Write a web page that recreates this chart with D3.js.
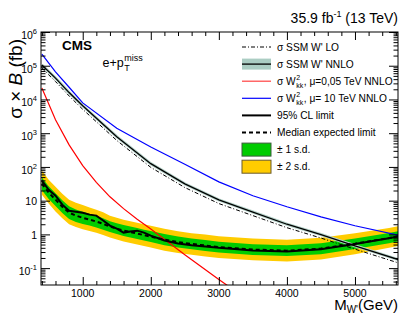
<!DOCTYPE html>
<html>
<head>
<meta charset="utf-8">
<script src="https://cdn.jsdelivr.net/npm/d3@7"></script>
<style>
  body { margin: 0; background: #fff; }
  text { font-family: "Liberation Sans", Arial, Helvetica, sans-serif; fill: #000; }
</style>
</head>
<body>
<div id="chart"></div>
<script>
var svgWidth = 407;
var svgHeight = 318;

var margin = { top: 32, right: 9, bottom: 33, left: 41 };
var width = svgWidth - margin.left - margin.right;
var height = svgHeight - margin.top - margin.bottom;

// theory curves (fb)
var theoryMass = [400, 600, 800, 1000, 1500, 2000, 2500, 3000, 3500, 4000, 4500, 5000, 5650];
var ssmNNLO = [1.05e5, 4.3e4, 1.6e4, 6.5e3, 790, 125, 31.6, 10.5, 4.6, 2.0, 0.99, 0.46, 0.175];
var ssmLO = [8.5e4, 3.4e4, 1.27e4, 5.1e3, 610, 97, 24.5, 8.2, 3.6, 1.58, 0.78, 0.365, 0.14];
var wkk10 = [2.2e5, 6.6e4, 2.3e4, 7.9e3, 1.4e3, 390, 120, 36, 14, 6.6, 3.3, 1.8, 0.93];

var redMass = [400, 600, 800, 1000, 1200, 1400, 1600, 1800, 2000, 2500, 3000, 3200];
var wkk005 = [2.2e4, 2.5e3, 450, 110, 35, 13, 5.8, 2.8, 1.45, 0.25, 0.046, 0.024];

// limits (fb)
var limitMass = [400, 500, 600, 700, 800, 900, 1000, 1100, 1200, 1300, 1400, 1500, 1600, 1700,
  1800, 1900, 2000, 2200, 2400, 2600, 2800, 3000, 3500, 4000, 4500, 5000, 5500, 5650];
var expected = [31.8, 17.3, 10.7, 6.6, 4.4, 3.6, 3.1, 2.75, 2.4, 2.05, 1.7, 1.48, 1.3, 1.17,
  1.06, 0.95, 0.86, 0.70, 0.59, 0.52, 0.47, 0.42, 0.355, 0.33, 0.38, 0.53, 0.78, 0.89];
var observed = [39, 21, 14, 7.6, 5.0, 4.7, 4.4, 3.85, 3.6, 2.57, 1.82, 1.48, 1.13, 1.21,
  1.29, 1.13, 0.92, 0.66, 0.54, 0.48, 0.44, 0.40, 0.335, 0.31, 0.36, 0.52, 0.77, 0.88];
var minus2 = [15, 8.2, 4.8, 3.0, 2.0, 1.65, 1.42, 1.27, 1.12, 0.96, 0.81, 0.71, 0.62, 0.56,
  0.50, 0.45, 0.41, 0.33, 0.28, 0.25, 0.22, 0.20, 0.17, 0.157, 0.18, 0.26, 0.40, 0.46];
var minus1 = [20.5, 11.2, 6.9, 4.3, 2.85, 2.35, 2.02, 1.82, 1.6, 1.38, 1.17, 1.02, 0.9, 0.81,
  0.73, 0.66, 0.59, 0.48, 0.41, 0.36, 0.32, 0.29, 0.245, 0.228, 0.26, 0.37, 0.55, 0.63];
var plus1 = [49, 26.8, 16.6, 10.2, 6.8, 5.5, 4.7, 4.1, 3.55, 3.0, 2.47, 2.15, 1.89, 1.7,
  1.54, 1.38, 1.25, 1.02, 0.86, 0.75, 0.68, 0.61, 0.51, 0.48, 0.55, 0.76, 1.1, 1.25];
var plus2 = [78, 42, 26, 16, 10.7, 8.6, 7.4, 6.3, 5.4, 4.5, 3.6, 3.1, 2.73, 2.45,
  2.23, 2.0, 1.8, 1.47, 1.24, 1.09, 0.99, 0.88, 0.75, 0.69, 0.8, 1.08, 1.55, 1.76];

// axis ticks
var xMajor = [1000, 2000, 3000, 4000, 5000];
var yMajor = [1e-1, 1, 10, 1e2, 1e3, 1e4, 1e5, 1e6];
var yLabels = ["10^-1", "1", "10", "10^2", "10^3", "10^4", "10^5", "10^6"];

var svg = d3.select("#chart")
  .append("svg")
  .attr("width", svgWidth)
  .attr("height", svgHeight);

var chartGroup = svg.append("g")
  .attr("transform", `translate(${margin.left}, ${margin.top})`);

var x = d3.scaleLinear().domain([387, 5632]).range([0, width]);
var y = d3.scaleLog().domain([0.0316, 1e6]).range([height, 0]);

var xMinor = d3.range(400, 5632, 200).filter(d => xMajor.indexOf(d) < 0);
var yMinor = [];
[0.01, 0.1, 1, 10, 1e2, 1e3, 1e4, 1e5].forEach(function(dec) {
  for (var k = 2; k <= 9; k++) {
    var v = dec * k;
    if (v > 0.0316 && v < 1e6) yMinor.push(v);
  }
});

chartGroup.append("clipPath").attr("id", "clip")
  .append("rect").attr("width", width).attr("height", height);

var plot = chartGroup.append("g").attr("clip-path", "url(#clip)");

function pts(mass, vals) { return d3.zip(mass, vals); }

var line = d3.line().x(d => x(d[0])).y(d => y(d[1]));
var band = d3.area()
  .x(d => x(d[0]))
  .y0(d => y(d[1]))
  .y1(d => y(d[2]));

// bands
plot.append("path")
  .attr("d", band(d3.zip(limitMass, minus2, plus2)))
  .attr("fill", "#ffcc00");
plot.append("path")
  .attr("d", band(d3.zip(limitMass, minus1, plus1)))
  .attr("fill", "#00cc00");

// theory lines
plot.append("path")
  .attr("d", line(pts(theoryMass, ssmNNLO)))
  .attr("fill", "none").attr("stroke", "#b4d2c9").attr("stroke-width", 3);
plot.append("path")
  .attr("d", line(pts(theoryMass, ssmLO)))
  .attr("fill", "none").attr("stroke", "#000").attr("stroke-width", 1)
  .attr("stroke-dasharray", "4,2,1,2");
plot.append("path")
  .attr("d", line(pts(theoryMass, ssmNNLO)))
  .attr("fill", "none").attr("stroke", "#000").attr("stroke-width", 1.3);
plot.append("path")
  .attr("d", line(pts(redMass, wkk005)))
  .attr("fill", "none").attr("stroke", "#ff0000").attr("stroke-width", 1.2);
plot.append("path")
  .attr("d", line(pts(theoryMass, wkk10)))
  .attr("fill", "none").attr("stroke", "#0000ff").attr("stroke-width", 1.2);

// limits
plot.append("path")
  .attr("d", line(pts(limitMass, expected)))
  .attr("fill", "none").attr("stroke", "#000").attr("stroke-width", 2)
  .attr("stroke-dasharray", "4,3");
plot.append("path")
  .attr("d", line(pts(limitMass, observed)))
  .attr("fill", "none").attr("stroke", "#000").attr("stroke-width", 2);

// axes: ticks pointing inward on all four sides
function tickAxis(axis, vals, size) {
  return axis.tickValues(vals).tickSize(size).tickFormat("");
}
chartGroup.append("g").attr("transform", `translate(0, ${height})`)
  .call(tickAxis(d3.axisBottom(x), xMajor, -8));
chartGroup.append("g").attr("transform", `translate(0, ${height})`)
  .call(tickAxis(d3.axisBottom(x), xMinor, -4));
chartGroup.append("g")
  .call(tickAxis(d3.axisTop(x), xMajor, -8));
chartGroup.append("g")
  .call(tickAxis(d3.axisTop(x), xMinor, -4));
chartGroup.append("g")
  .call(tickAxis(d3.axisLeft(y), yMajor, -9));
chartGroup.append("g")
  .call(tickAxis(d3.axisLeft(y), yMinor, -4.5));
chartGroup.append("g").attr("transform", `translate(${width}, 0)`)
  .call(tickAxis(d3.axisRight(y), yMajor, -9));
chartGroup.append("g").attr("transform", `translate(${width}, 0)`)
  .call(tickAxis(d3.axisRight(y), yMinor, -4.5));
chartGroup.selectAll(".domain").remove();
chartGroup.selectAll(".tick line").attr("stroke", "#000");

chartGroup.append("rect")
  .attr("width", width).attr("height", height)
  .attr("fill", "none").attr("stroke", "#000").attr("stroke-width", 1);

// x tick labels
chartGroup.selectAll(".xlab")
  .data(xMajor)
  .enter()
  .append("text")
  .attr("x", d => x(d))
  .attr("y", height + 12)
  .attr("text-anchor", "middle")
  .style("font-size", "10.5px")
  .text(d => d);

// y tick labels
yMajor.forEach(function(v, i) {
  var parts = yLabels[i].split("^");
  var t = chartGroup.append("text")
    .attr("x", -4)
    .attr("y", y(v) + (parts.length > 1 ? 7 : 4.5))
    .attr("text-anchor", "end")
    .style("font-size", "10.5px");
  t.append("tspan").text(parts[0]);
  if (parts.length > 1) {
    t.append("tspan").attr("dy", -5).style("font-size", "7.5px").text(parts[1]);
  }
});

// axis titles
var yTitle = svg.append("text")
  .attr("transform", "translate(22, 39) rotate(-90)")
  .attr("text-anchor", "end")
  .style("font-size", "19px");
yTitle.append("tspan").text("σ × ");
yTitle.append("tspan").style("font-style", "italic").text("B");
yTitle.append("tspan").text(" (fb)");

var xTitle = svg.append("text")
  .attr("x", 398)
  .attr("y", 310)
  .attr("text-anchor", "end")
  .style("font-size", "15px");
xTitle.append("tspan").text("M");
xTitle.append("tspan").attr("dy", 3).style("font-size", "10px").text("W'");
xTitle.append("tspan").attr("dy", -3).text("(GeV)");

// lumi label
var lumi = svg.append("text")
  .attr("x", 398)
  .attr("y", 23)
  .attr("text-anchor", "end")
  .style("font-size", "14px");
lumi.append("tspan").text("35.9 fb");
lumi.append("tspan").attr("dy", -6).style("font-size", "9px").text("-1");
lumi.append("tspan").attr("dy", 6).text(" (13 TeV)");

svg.append("text")
  .attr("x", 62).attr("y", 50)
  .style("font-size", "13.5px").style("font-weight", "bold")
  .text("CMS");

// e + pT miss with stacked sub/superscript
function stacked(g, px, py, base, sup, sub, size, supSize, tail) {
  var t = g.append("text").attr("x", px).attr("y", py).style("font-size", size + "px").text(base);
  var w = t.node().getComputedTextLength();
  var s1 = g.append("text").attr("x", px + w + 0.5).attr("y", py - size * 0.45)
    .style("font-size", supSize + "px").text(sup);
  var s2 = g.append("text").attr("x", px + w + 0.5).attr("y", py + size * 0.3)
    .style("font-size", supSize + "px").text(sub);
  if (tail) {
    var w2 = Math.max(s1.node().getComputedTextLength(), s2.node().getComputedTextLength());
    g.append("text").attr("x", px + w + w2 + 1).attr("y", py).style("font-size", size + "px").text(tail);
  }
}
stacked(svg, 102.5, 67, "e+p", "miss", "T", 12.5, 9);

// legend
var legX = 242, legW = 29, legText = 277;
var legRows = [47, 64.1, 81.2, 98.3, 115.4, 132.5, 149.6, 166.7];
var legend = svg.append("g");

function legLine(yy, color, widthPx, dash) {
  legend.append("line")
    .attr("x1", legX).attr("x2", legX + legW)
    .attr("y1", yy).attr("y2", yy)
    .attr("stroke", color).attr("stroke-width", widthPx)
    .attr("stroke-dasharray", dash || null);
}
function legBox(yy, h, fill, stroke) {
  legend.append("rect")
    .attr("x", legX).attr("y", yy - h / 2)
    .attr("width", legW).attr("height", h)
    .attr("fill", fill)
    .attr("stroke", stroke || "none");
}
function legLabel(yy, txt) {
  legend.append("text").attr("x", legText).attr("y", yy + 3.5)
    .style("font-size", "10.2px").text(txt);
}

legLine(legRows[0], "#000", 1, "4,2,1,2");
legLabel(legRows[0], "σ SSM W' LO");

legBox(legRows[1], 11, "#abcdc3");
legLine(legRows[1], "#000", 1.3);
legLabel(legRows[1], "σ SSM W' NNLO");

legLine(legRows[2], "#ff4040", 1.2);
stacked(legend, legText, legRows[2] + 3.5, "σ W", "2", "kk", 10.2, 7, ", μ=0,05 TeV NNLO");

legLine(legRows[3], "#0000ff", 1.2);
stacked(legend, legText, legRows[3] + 3.5, "σ W", "2", "kk", 10.2, 7, ", μ= 10 TeV NNLO");

legLine(legRows[4], "#000", 2);
legLabel(legRows[4], "95% CL limit");

legLine(legRows[5], "#000", 2, "4,3");
legLabel(legRows[5], "Median expected limit");

legBox(legRows[6], 13, "#00cc00", "#3d5a3d");
legLabel(legRows[6], "± 1 s.d.");

legBox(legRows[7], 13, "#ffcc00", "#6b5a2a");
legLabel(legRows[7], "± 2 s.d.");
</script>
</body>
</html>
